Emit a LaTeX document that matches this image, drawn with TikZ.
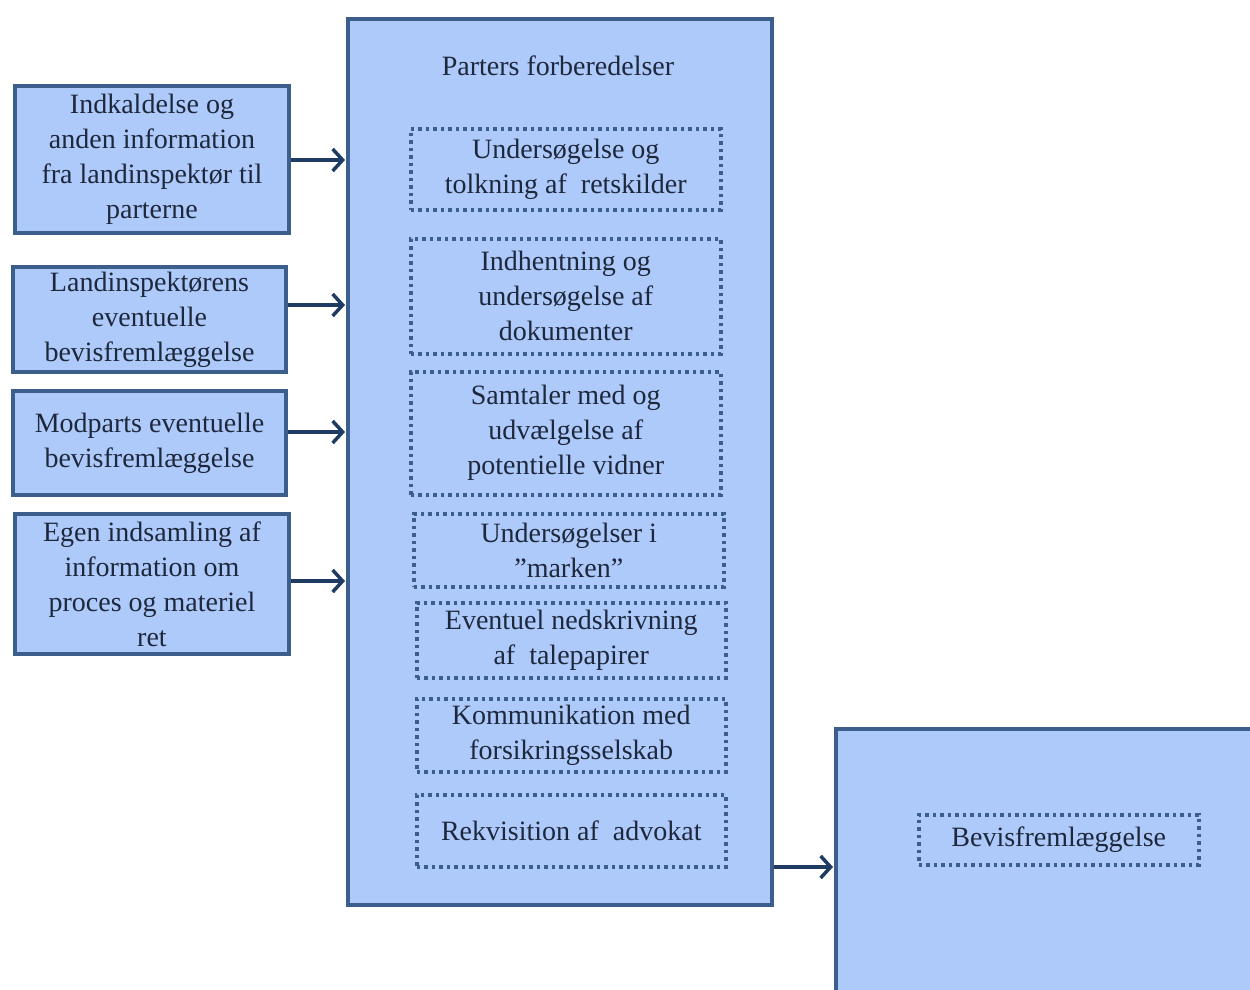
\documentclass[tikz,border=0pt]{standalone}
\usepackage{fontspec}
\setmainfont{Liberation Serif}
\usetikzlibrary{arrows.meta}
\definecolor{boxfill}{RGB}{174,202,250}
\definecolor{boxline}{RGB}{59,94,140}
\definecolor{arrowc}{RGB}{31,59,99}
\definecolor{txt}{RGB}{30,40,60}
\tikzset{
  solidbox/.style={draw=boxline, fill=boxfill, line width=4pt, inner sep=0pt, text=txt, align=center,
    font=\fontsize{28}{35}\selectfont},
  dotbox/.style={draw=boxline, line width=3.5pt, dash pattern=on 3.5pt off 4pt, inner sep=0pt, text=txt,
    align=center, font=\fontsize{28}{35}\selectfont},
  conn/.style={draw=arrowc, line width=3.5pt, -{Straight Barb[length=10pt,width=22pt,line width=3.5pt]}}
}
\newcommand{\bx}[6]{% name, style, x1, y1, x2, y2 ; text via next arg
  \node[#2, minimum width={#5-#3}, minimum height={#6-#4}, anchor=north west] (#1) at (#3,#4)}
\begin{document}
\begin{tikzpicture}[x=1pt,y=-1pt]
\useasboundingbox (0,0) rectangle (1250,990);
% left boxes
\bx{a}{solidbox}{13}{84}{287}{231} {Indkaldelse og\\anden information\\fra landinspektør til\\parterne};
\bx{b}{solidbox}{11}{265}{284}{370} {Landinspektørens\\eventuelle\\bevisfremlæggelse};
\bx{c}{solidbox}{11}{389}{284}{493} {Modparts eventuelle\\bevisfremlæggelse};
\bx{d}{solidbox}{13}{512}{287}{652} {Egen indsamling af\\information om\\proces og materiel\\ret};
% main box
\bx{m}{solidbox}{346}{17}{770}{903} {};
\node[text=txt, font=\fontsize{28}{35}\selectfont] (mt) at (558,66) {Parters forberedelser};
% dotted boxes
\bx{p1}{dotbox}{409}{127}{719}{208} {Undersøgelse og\\tolkning af~ retskilder};
\bx{p2}{dotbox}{409}{237}{719}{352} {Indhentning og\\undersøgelse af\\dokumenter};
\bx{p3}{dotbox}{409}{370}{719}{493} {Samtaler med og\\udvælgelse af\\potentielle vidner};
\bx{p4}{dotbox}{412}{512}{722}{585} {Undersøgelser i\\”marken”};
\bx{p5}{dotbox}{415}{601}{724}{676} {Eventuel nedskrivning\\af~ talepapirer};
\bx{p6}{dotbox}{415}{697}{724}{770} {Kommunikation med\\forsikringsselskab};
\bx{p7}{dotbox}{415}{793}{724}{865} {Rekvisition af~ advokat};
% right box
\bx{r}{solidbox}{834}{727}{1270}{1010} {};
\bx{r1}{dotbox}{917}{813}{1197}{863} {Bevisfremlæggelse};
% connectors
\draw[conn] (a.east |- 0,160) -- ([xshift=-1pt]m.west |- 0,160);
\draw[conn] (b.east |- 0,305) -- ([xshift=-1pt]m.west |- 0,305);
\draw[conn] (c.east |- 0,432) -- ([xshift=-1pt]m.west |- 0,432);
\draw[conn] (d.east |- 0,581) -- ([xshift=-1pt]m.west |- 0,581);
\draw[conn] (m.east |- 0,867) -- ([xshift=-1pt]r.west |- 0,867);
\end{tikzpicture}
\end{document}
